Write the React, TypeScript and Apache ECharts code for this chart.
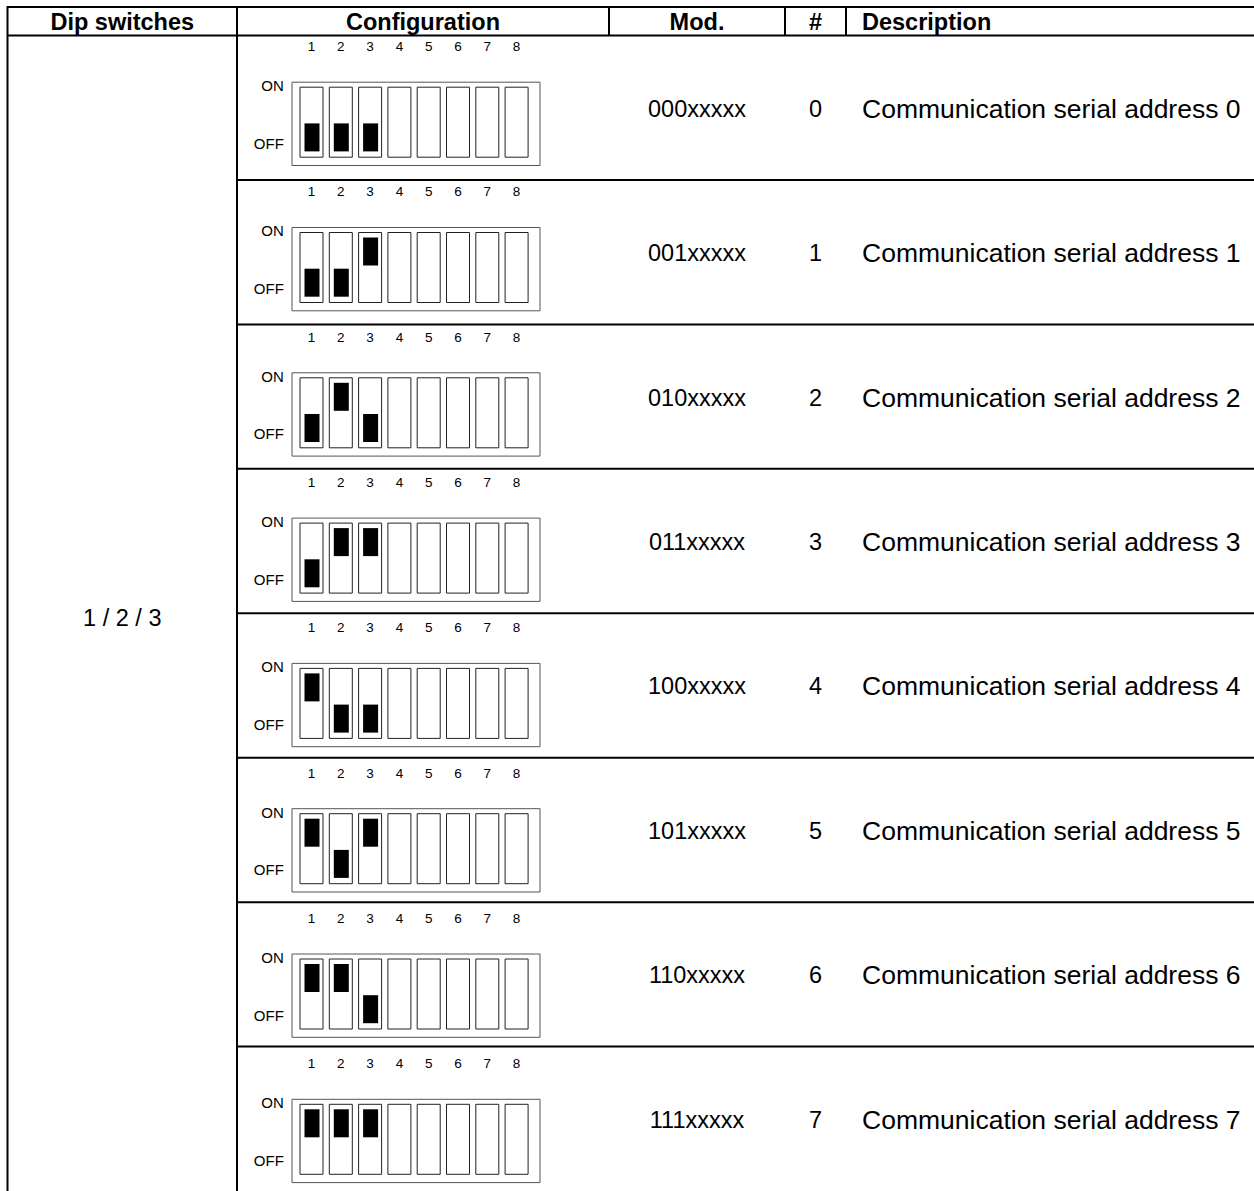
import React, { useEffect, useRef } from "react";
import * as echarts from "echarts";

// ---------- data ----------
const headers = ["Dip switches", "Configuration", "Mod.", "#", "Description"];
const dipGroup = "1 / 2 / 3";
const switchLabels = ["1", "2", "3", "4", "5", "6", "7", "8"];
const positionLabels = ["OFF", "ON"];
const modes = ["000xxxxx", "001xxxxx", "010xxxxx", "011xxxxx", "100xxxxx", "101xxxxx", "110xxxxx", "111xxxxx"];
const numbers = ["0", "1", "2", "3", "4", "5", "6", "7"];
const descriptions = [
  "Communication serial address 0",
  "Communication serial address 1",
  "Communication serial address 2",
  "Communication serial address 3",
  "Communication serial address 4",
  "Communication serial address 5",
  "Communication serial address 6",
  "Communication serial address 7",
];

// ---------- layout ----------
const W = 1254;
const H = 1191;
const FONT = "'Liberation Sans', Arial, Helvetica, sans-serif";
const TOP_LINE = 7;
const HEADER_BOTTOM = 35.5;
const ROW_H = 145.3;
const X_LEFT = 7.5;
const X_DIP = 237;
const X_CFG = 609;
const X_MOD = 785;
const X_NUM = 846;
const MOD_CX = 697;
const NUM_CX = 815.5;
const DESC_X = 862;
const SW_LEFT = 296.85;
const SW_WIDTH = 234.4;
const SW_TOP_OFF = 21.1;
const SW_HEIGHT = 115.6;

const stateOf = (ch: string) => (ch === "1" ? 1 : ch === "0" ? 0 : -1);

function txt(x: number, y: number, text: string, size: number, opts: any = {}) {
  const align = opts.align || "center";
  return {
    type: "text",
    x,
    y,
    silent: true,
    style: {
      text,
      fill: "#000",
      fontSize: size,
      fontFamily: FONT,
      fontWeight: opts.bold ? "bold" : "normal",
      align,
      textAlign: align,
      verticalAlign: "middle",
      textVerticalAlign: "middle",
    },
  };
}

function ln(x1: number, y1: number, x2: number, y2: number) {
  return {
    type: "line",
    silent: true,
    shape: { x1, y1, x2, y2 },
    style: { stroke: "#000", lineWidth: 2 },
  };
}

function buildOption() {
  const grid: any[] = [{ left: 0, top: HEADER_BOTTOM, width: W, height: ROW_H * modes.length }];
  const xAxis: any[] = [{ type: "value", gridIndex: 0, min: 0, max: W, show: false }];
  const yAxis: any[] = [{ type: "category", gridIndex: 0, data: modes, inverse: true, show: false }];
  const series: any[] = [];

  // table rows (texts + separators) through the row category scale
  series.push({
    type: "custom",
    xAxisIndex: 0,
    yAxisIndex: 0,
    silent: true,
    data: modes.map((_, i) => [0, i]),
    renderItem: (params: any, api: any) => {
      const idx = api.value(1);
      const c = api.coord([0, idx]);
      const bandH = api.size([0, 1])[1];
      const cy = c[1];
      const children: any[] = [
        txt(api.coord([MOD_CX, idx])[0], cy + 1, modes[idx], 23.5),
        txt(api.coord([NUM_CX, idx])[0], cy + 1, numbers[idx], 23.5),
        txt(api.coord([DESC_X, idx])[0], cy + 1, descriptions[idx], 26.5, { align: "left" }),
      ];
      if (idx > 0) {
        children.push(ln(api.coord([X_DIP, idx])[0], cy - bandH / 2, api.coord([W, idx])[0], cy - bandH / 2));
      }
      return { type: "group", children };
    },
  });

  modes.forEach((mode, r) => {
    const gi = r + 1;
    grid.push({
      left: SW_LEFT,
      top: HEADER_BOTTOM + r * ROW_H + SW_TOP_OFF,
      width: SW_WIDTH,
      height: SW_HEIGHT,
    });
    xAxis.push({
      type: "category",
      gridIndex: gi,
      position: "top",
      data: switchLabels,
      axisLine: { show: false },
      axisTick: { show: false },
      splitLine: { show: false },
      axisLabel: {
        interval: 0,
        fontSize: 13.5,
        fontFamily: FONT,
        color: "#000",
        margin: 10,
        verticalAlign: "middle",
      },
    });
    yAxis.push({
      type: "category",
      gridIndex: gi,
      data: positionLabels,
      axisLine: { show: false },
      axisTick: { show: false },
      splitLine: { show: false },
      axisLabel: {
        interval: 0,
        fontSize: 15,
        fontFamily: FONT,
        color: "#000",
        margin: 13,
      },
    });
    // outer housing
    series.push({
      type: "custom",
      xAxisIndex: gi,
      yAxisIndex: gi,
      silent: true,
      z: 1,
      data: [[0, 0]],
      renderItem: (params: any) => {
        const cs = params.coordSys;
        return {
          type: "rect",
          shape: { x: cs.x - 4.85, y: cs.y + 25.6, width: 248, height: 83.3 },
          style: { fill: "#fff", stroke: "#555", lineWidth: 1 },
        };
      },
    });
    // slots and knobs
    series.push({
      type: "custom",
      xAxisIndex: gi,
      yAxisIndex: gi,
      silent: true,
      z: 2,
      dimensions: ["sw", "pos", "state"],
      encode: { x: 0, y: 1 },
      data: switchLabels.map((_, i) => [i, 0, stateOf(mode.charAt(i))]),
      renderItem: (params: any, api: any) => {
        const cs = params.coordSys;
        const cx = api.coord([api.value(0), 0])[0];
        const st = api.value(2);
        const children: any[] = [
          {
            type: "rect",
            shape: { x: cx - 11.5, y: cs.y + 30.6, width: 23, height: 70 },
            style: { fill: "#fff", stroke: "#222", lineWidth: 1 },
          },
        ];
        if (st === 1 || st === 0) {
          children.push({
            type: "rect",
            shape: { x: cx - 7, y: cs.y + (st === 1 ? 35.6 : 66.8), width: 15, height: 28 },
            style: { fill: "#000" },
          });
        }
        return { type: "group", children };
      },
    });
  });

  const headerCY = (TOP_LINE + HEADER_BOTTOM) / 2 + 0.5;
  const graphic: any[] = [
    ln(X_LEFT, TOP_LINE, W, TOP_LINE),
    ln(X_LEFT, HEADER_BOTTOM, W, HEADER_BOTTOM),
    ln(X_LEFT, TOP_LINE - 1, X_LEFT, H),
    ln(X_DIP, TOP_LINE - 1, X_DIP, H),
    ln(X_CFG, TOP_LINE - 1, X_CFG, HEADER_BOTTOM),
    ln(X_MOD, TOP_LINE - 1, X_MOD, HEADER_BOTTOM),
    ln(X_NUM, TOP_LINE - 1, X_NUM, HEADER_BOTTOM),
    txt((X_LEFT + X_DIP) / 2, headerCY, headers[0], 23.5, { bold: true }),
    txt((X_DIP + X_CFG) / 2, headerCY, headers[1], 23.5, { bold: true }),
    txt((X_CFG + X_MOD) / 2, headerCY, headers[2], 23.5, { bold: true }),
    txt((X_MOD + X_NUM) / 2, headerCY, headers[3], 23.5, { bold: true }),
    txt(DESC_X, headerCY, headers[4], 23.5, { bold: true, align: "left" }),
    txt((X_LEFT + X_DIP) / 2, HEADER_BOTTOM + (ROW_H * modes.length) / 2 + 1, dipGroup, 23.5),
  ];

  return {
    animation: false,
    backgroundColor: "#fff",
    grid,
    xAxis,
    yAxis,
    series,
    graphic: { elements: graphic },
  };
}

export default function App() {
  const ref = useRef<HTMLDivElement>(null);
  useEffect(() => {
    if (!ref.current) return;
    const chart = echarts.init(ref.current, undefined, { renderer: "svg" });
    chart.setOption(buildOption() as any);
    return () => chart.dispose();
  }, []);
  return <div ref={ref} style={{ position: "absolute", left: 0, top: 0, width: W, height: H, background: "#fff" }} />;
}
